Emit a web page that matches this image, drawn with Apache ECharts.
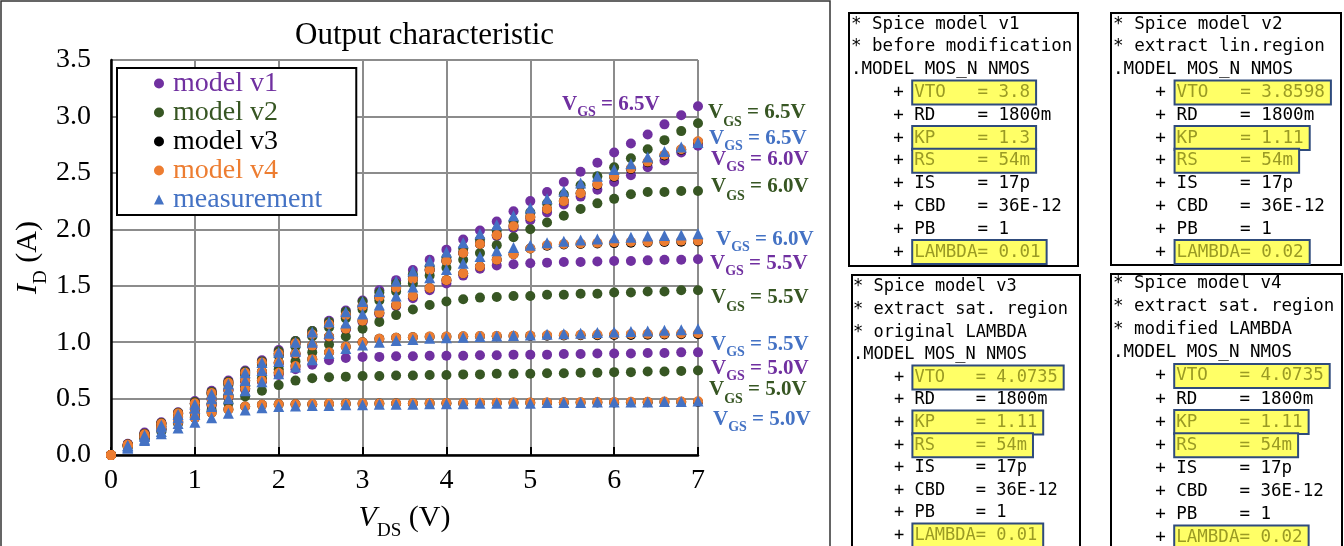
<!DOCTYPE html>
<html lang="en">
<head>
<meta charset="UTF-8">
<title>Output characteristic</title>
<script src="https://cdn.jsdelivr.net/npm/echarts@6/dist/echarts.min.js"></script>
<style>
  body { margin: 0; background: #fff; }
  #main { width: 1344px; height: 546px; }
</style>
</head>
<body>
<div id="main"></div>
<script>
  // V_DS sweep (V)
  var vds = [0, 0.2, 0.4, 0.6, 0.8, 1, 1.2, 1.4, 1.6, 1.8, 2, 2.2, 2.4, 2.6, 2.8, 3, 3.2, 3.4, 3.6, 3.8, 4, 4.2, 4.4, 4.6, 4.8, 5, 5.2, 5.4, 5.6, 5.8, 6, 6.2, 6.4, 6.6, 6.8, 7];

  // I_D (A), one array per model and VGS
  var v1_50 = [0, 0.08, 0.16, 0.23, 0.30, 0.37, 0.44, 0.51, 0.58, 0.65, 0.71, 0.76, 0.80, 0.84, 0.86, 0.87, 0.87, 0.875, 0.875, 0.88, 0.88, 0.88, 0.885, 0.885, 0.89, 0.89, 0.89, 0.895, 0.895, 0.90, 0.90, 0.90, 0.905, 0.905, 0.91, 0.91];
  var v1_55 = [0, 0.085, 0.17, 0.25, 0.33, 0.41, 0.49, 0.57, 0.65, 0.73, 0.81, 0.89, 0.96, 1.04, 1.11, 1.18, 1.25, 1.32, 1.39, 1.46, 1.52, 1.59, 1.65, 1.68, 1.69, 1.70, 1.705, 1.71, 1.71, 1.715, 1.72, 1.72, 1.725, 1.73, 1.73, 1.735];
  var v1_60 = [0, 0.095, 0.19, 0.28, 0.37, 0.46, 0.55, 0.63, 0.72, 0.81, 0.89, 0.98, 1.06, 1.15, 1.23, 1.31, 1.40, 1.48, 1.56, 1.64, 1.72, 1.79, 1.87, 1.94, 2.01, 2.08, 2.15, 2.22, 2.29, 2.35, 2.42, 2.48, 2.55, 2.61, 2.68, 2.74];
  var v1_65 = [0, 0.10, 0.20, 0.29, 0.38, 0.48, 0.57, 0.66, 0.75, 0.84, 0.93, 1.01, 1.10, 1.19, 1.28, 1.37, 1.46, 1.55, 1.64, 1.73, 1.82, 1.91, 1.99, 2.07, 2.16, 2.25, 2.33, 2.42, 2.51, 2.59, 2.68, 2.76, 2.84, 2.93, 3.01, 3.09];

  var v2_50 = [0, 0.07, 0.14, 0.21, 0.28, 0.34, 0.40, 0.46, 0.52, 0.57, 0.62, 0.66, 0.68, 0.69, 0.695, 0.70, 0.70, 0.705, 0.705, 0.71, 0.71, 0.715, 0.715, 0.72, 0.72, 0.72, 0.725, 0.725, 0.73, 0.73, 0.735, 0.735, 0.74, 0.74, 0.745, 0.75];
  var v2_55 = [0, 0.08, 0.15, 0.23, 0.30, 0.38, 0.46, 0.53, 0.61, 0.68, 0.76, 0.83, 0.91, 0.98, 1.05, 1.12, 1.18, 1.24, 1.29, 1.33, 1.36, 1.38, 1.395, 1.40, 1.41, 1.41, 1.42, 1.42, 1.43, 1.43, 1.44, 1.44, 1.45, 1.45, 1.46, 1.46];
  var v2_60 = [0, 0.09, 0.18, 0.27, 0.36, 0.45, 0.54, 0.62, 0.71, 0.80, 0.88, 0.96, 1.05, 1.13, 1.21, 1.29, 1.37, 1.45, 1.52, 1.59, 1.66, 1.73, 1.79, 1.86, 1.93, 2.00, 2.06, 2.12, 2.18, 2.23, 2.27, 2.31, 2.33, 2.33, 2.34, 2.34];
  var v2_65 = [0, 0.095, 0.19, 0.285, 0.375, 0.47, 0.56, 0.65, 0.74, 0.83, 0.92, 1.01, 1.10, 1.18, 1.27, 1.36, 1.44, 1.52, 1.60, 1.67, 1.75, 1.83, 1.91, 1.99, 2.07, 2.15, 2.23, 2.31, 2.39, 2.47, 2.55, 2.63, 2.71, 2.79, 2.87, 2.94];

  var v3_50 = [0, 0.08, 0.16, 0.23, 0.29, 0.33, 0.376, 0.405, 0.43, 0.445, 0.45, 0.45, 0.451, 0.453, 0.454, 0.455, 0.456, 0.457, 0.458, 0.458, 0.459, 0.46, 0.461, 0.462, 0.463, 0.463, 0.464, 0.465, 0.466, 0.467, 0.467, 0.468, 0.469, 0.47, 0.47, 0.471];
  var v3_55 = [0, 0.08, 0.155, 0.23, 0.305, 0.38, 0.45, 0.52, 0.59, 0.66, 0.73, 0.79, 0.85, 0.91, 0.96, 1.00, 1.03, 1.04, 1.044, 1.048, 1.049, 1.05, 1.052, 1.053, 1.055, 1.056, 1.058, 1.059, 1.061, 1.062, 1.064, 1.065, 1.067, 1.068, 1.07, 1.071];
  var v3_60 = [0, 0.085, 0.17, 0.255, 0.34, 0.42, 0.50, 0.58, 0.66, 0.74, 0.82, 0.90, 0.97, 1.05, 1.12, 1.19, 1.26, 1.33, 1.41, 1.48, 1.55, 1.61, 1.67, 1.73, 1.78, 1.83, 1.855, 1.865, 1.87, 1.875, 1.878, 1.881, 1.884, 1.887, 1.89, 1.892];
  var v3_65 = [0, 0.093, 0.185, 0.28, 0.37, 0.46, 0.55, 0.64, 0.73, 0.82, 0.90, 0.99, 1.07, 1.16, 1.24, 1.32, 1.40, 1.48, 1.56, 1.64, 1.72, 1.79, 1.87, 1.95, 2.03, 2.11, 2.18, 2.25, 2.32, 2.395, 2.465, 2.535, 2.595, 2.655, 2.705, 2.775];

  var v4_50 = [0, 0.08, 0.16, 0.23, 0.29, 0.33, 0.376, 0.405, 0.43, 0.445, 0.45, 0.45, 0.452, 0.454, 0.455, 0.456, 0.457, 0.458, 0.459, 0.46, 0.461, 0.462, 0.463, 0.464, 0.465, 0.466, 0.467, 0.468, 0.469, 0.47, 0.471, 0.472, 0.473, 0.474, 0.475, 0.476];
  var v4_55 = [0, 0.08, 0.155, 0.23, 0.305, 0.38, 0.45, 0.52, 0.59, 0.66, 0.73, 0.79, 0.85, 0.91, 0.96, 1.00, 1.03, 1.04, 1.045, 1.05, 1.05, 1.052, 1.054, 1.056, 1.058, 1.06, 1.062, 1.064, 1.066, 1.068, 1.07, 1.072, 1.074, 1.076, 1.078, 1.08];
  var v4_60 = [0, 0.085, 0.17, 0.255, 0.34, 0.42, 0.50, 0.58, 0.66, 0.74, 0.82, 0.90, 0.97, 1.05, 1.12, 1.19, 1.26, 1.33, 1.41, 1.48, 1.55, 1.61, 1.67, 1.73, 1.78, 1.83, 1.86, 1.87, 1.875, 1.88, 1.885, 1.89, 1.89, 1.895, 1.90, 1.90];
  var v4_65 = [0, 0.093, 0.185, 0.28, 0.37, 0.46, 0.55, 0.64, 0.73, 0.82, 0.90, 0.99, 1.07, 1.16, 1.24, 1.32, 1.40, 1.48, 1.56, 1.64, 1.72, 1.79, 1.87, 1.95, 2.03, 2.11, 2.18, 2.25, 2.32, 2.40, 2.47, 2.54, 2.60, 2.66, 2.71, 2.78];

  // measurement has no point at 0 V
  var meas_50 = [null, 0.06, 0.13, 0.19, 0.24, 0.29, 0.33, 0.37, 0.40, 0.42, 0.43, 0.435, 0.44, 0.44, 0.445, 0.445, 0.45, 0.45, 0.45, 0.455, 0.455, 0.455, 0.46, 0.46, 0.46, 0.46, 0.465, 0.465, 0.465, 0.47, 0.47, 0.47, 0.47, 0.475, 0.475, 0.48];
  var meas_55 = [null, 0.07, 0.14, 0.21, 0.28, 0.36, 0.43, 0.50, 0.57, 0.65, 0.72, 0.78, 0.845, 0.90, 0.945, 0.975, 1.00, 1.015, 1.025, 1.035, 1.04, 1.045, 1.05, 1.055, 1.06, 1.065, 1.07, 1.075, 1.08, 1.085, 1.09, 1.095, 1.10, 1.105, 1.11, 1.12];
  var meas_60 = [null, 0.08, 0.165, 0.25, 0.33, 0.415, 0.50, 0.58, 0.66, 0.75, 0.83, 0.92, 1.00, 1.08, 1.17, 1.25, 1.33, 1.41, 1.49, 1.57, 1.645, 1.70, 1.76, 1.81, 1.84, 1.86, 1.88, 1.895, 1.905, 1.915, 1.925, 1.93, 1.94, 1.945, 1.95, 1.96];
  var meas_65 = [null, 0.085, 0.175, 0.265, 0.36, 0.45, 0.54, 0.63, 0.73, 0.82, 0.91, 1.00, 1.09, 1.18, 1.27, 1.36, 1.45, 1.54, 1.63, 1.72, 1.80, 1.88, 1.96, 2.04, 2.12, 2.19, 2.27, 2.34, 2.41, 2.47, 2.53, 2.58, 2.64, 2.69, 2.73, 2.77];

  var xTicks = [0, 1, 2, 3, 4, 5, 6, 7];
  var yTicks = [0, 0.5, 1, 1.5, 2, 2.5, 3, 3.5];

  var models = [
    { name: 'model v1', color: '#7030A0', symbol: 'circle', size: 10, curves: [v1_50, v1_55, v1_60, v1_65] },
    { name: 'model v2', color: '#375623', symbol: 'circle', size: 10, curves: [v2_50, v2_55, v2_60, v2_65] },
    { name: 'model v3', color: '#000000', symbol: 'circle', size: 10, curves: [v3_50, v3_55, v3_60, v3_65] },
    { name: 'model v4', color: '#ED7D31', symbol: 'circle', size: 10, curves: [v4_50, v4_55, v4_60, v4_65] },
    { name: 'measurement', color: '#4472C4', symbol: 'triangle', size: 11, curves: [meas_50, meas_55, meas_60, meas_65] }
  ];

  // spice parameter boxes on the right
  var spiceBoxes = [
    { x: 849, y: 13, w: 229, h: 253, tx: 851, ty: 24, pitch: 22.8, fs: 17.5,
      hl: [3, 5, 6, 10],
      lines: ['* Spice model v1', '* before modification', '.MODEL MOS_N NMOS',
        '    + VTO   = 3.8', '    + RD    = 1800m', '    + KP    = 1.3', '    + RS    = 54m',
        '    + IS    = 17p', '    + CBD   = 36E-12', '    + PB    = 1', '    + LAMBDA= 0.01'] },
    { x: 1111, y: 13, w: 230, h: 252, tx: 1113, ty: 24, pitch: 22.8, fs: 17.6,
      hl: [3, 5, 6, 10],
      lines: ['* Spice model v2', '* extract lin.region', '.MODEL MOS_N NMOS',
        '    + VTO   = 3.8598', '    + RD    = 1800m', '    + KP    = 1.11', '    + RS    = 54m',
        '    + IS    = 17p', '    + CBD   = 36E-12', '    + PB    = 1', '    + LAMBDA= 0.02'] },
    { x: 852, y: 275, w: 228, h: 290, tx: 853, ty: 287, pitch: 22.6, fs: 17,
      hl: [4, 6, 7, 11],
      lines: ['* Spice model v3', '* extract sat. region', '* original LAMBDA', '.MODEL MOS_N NMOS',
        '    + VTO   = 4.0735', '    + RD    = 1800m', '    + KP    = 1.11', '    + RS    = 54m',
        '    + IS    = 17p', '    + CBD   = 36E-12', '    + PB    = 1', '    + LAMBDA= 0.01'] },
    { x: 1111, y: 274, w: 231, h: 290, tx: 1113, ty: 283.5, pitch: 23.1, fs: 17.5,
      hl: [4, 6, 7, 11],
      lines: ['* Spice model v4', '* extract sat. region', '* modified LAMBDA', '.MODEL MOS_N NMOS',
        '    + VTO   = 4.0735', '    + RD    = 1800m', '    + KP    = 1.11', '    + RS    = 54m',
        '    + IS    = 17p', '    + CBD   = 36E-12', '    + PB    = 1', '    + LAMBDA= 0.02'] }
  ];

  // VGS annotations: [text value, colour, left x, centre y of the V]
  var vgsLabels = [
    ['6.5V', '#7030A0', 562, 105], ['6.5V', '#375623', 708, 113], ['6.5V', '#4472C4', 709, 139],
    ['6.0V', '#7030A0', 711, 160], ['6.0V', '#375623', 711, 187], ['6.0V', '#4472C4', 716, 240],
    ['5.5V', '#7030A0', 710, 264], ['5.5V', '#375623', 711, 298], ['5.5V', '#4472C4', 711, 345],
    ['5.0V', '#7030A0', 711, 369], ['5.0V', '#375623', 709, 390], ['5.0V', '#4472C4', 713, 420]
  ];

  var SERIF = '"Liberation Serif", "Times New Roman", serif';
  var MONO = '"DejaVu Sans Mono", monospace';

  function points(arr) {
    var out = [];
    for (var i = 0; i < vds.length; i++) {
      if (arr[i] != null) out.push([vds[i], arr[i]]);
    }
    return out;
  }

  var series = models.map(function (m) {
    var data = [];
    m.curves.forEach(function (c) { data = data.concat(points(c)); });
    return {
      type: 'scatter',
      name: m.name,
      symbol: m.symbol,
      symbolSize: m.size,
      clip: false,
      silent: true,
      itemStyle: { color: m.color, opacity: 1 },
      data: data
    };
  });

  var graphics = [];
  // frame round the chart
  graphics.push({ type: 'rect', shape: { x: 1, y: 1, width: 829, height: 560 },
    style: { fill: 'none', stroke: '#333', lineWidth: 1.5 }, z: 100 });

  vgsLabels.forEach(function (l) {
    var green = l[1] === '#375623';
    var pad = green ? 15 : 12;
    var L = green ? 25 : 24;
    graphics.push({
      type: 'text', x: l[2], y: l[3] - L / 2, z: 100,
      style: {
        text: '{v|V}{s|GS}{v| = ' + l[0] + '}',
        align: 'left', verticalAlign: 'top', textAlign: 'left', textVerticalAlign: 'top',
        fill: l[1],
        rich: {
          v: { fontSize: 21, fontWeight: 'bold', fontFamily: SERIF, fill: l[1], lineHeight: 24 },
          s: { fontSize: 14, fontWeight: 'bold', fontFamily: SERIF, fill: l[1], lineHeight: 10,
               verticalAlign: 'top', padding: [pad, 0, 0, 0] }
        }
      }
    });
  });

  spiceBoxes.forEach(function (b) {
    var cw = b.fs * 0.602;
    graphics.push({ type: 'rect', shape: { x: b.x, y: b.y, width: b.w, height: b.h },
      style: { fill: '#fff', stroke: '#000', lineWidth: 2 }, z: 10 });
    b.lines.forEach(function (s, i) {
      var cy = b.ty + i * b.pitch;
      var isHl = b.hl.indexOf(i) >= 0;
      if (isHl) {
        graphics.push({ type: 'rect', z: 11,
          shape: { x: b.tx + 6 * cw - 2, y: cy - 12, width: (s.length - 6) * cw + 8, height: 24 },
          style: { fill: '#FFFF66', stroke: '#2F4B7C', lineWidth: 2 } });
        graphics.push({ type: 'text', x: b.tx, y: cy, z: 12,
          style: { text: s.slice(0, 6), font: b.fs + 'px ' + MONO, fill: '#000',
            align: 'left', verticalAlign: 'middle', textAlign: 'left', textVerticalAlign: 'middle' } });
        graphics.push({ type: 'text', x: b.tx + 6 * cw, y: cy, z: 12,
          style: { text: s.slice(6), font: b.fs + 'px ' + MONO, fill: '#9A9A24',
            align: 'left', verticalAlign: 'middle', textAlign: 'left', textVerticalAlign: 'middle' } });
      } else {
        graphics.push({ type: 'text', x: b.tx, y: cy, z: 12,
          style: { text: s, font: b.fs + 'px ' + MONO, fill: '#000',
            align: 'left', verticalAlign: 'middle', textAlign: 'left', textVerticalAlign: 'middle' } });
      }
    });
  });

  var myChart = echarts.init(document.getElementById('main'));
  var option = {
    animation: false,
    backgroundColor: '#fff',
    textStyle: { fontFamily: SERIF },
    title: {
      text: 'Output characteristic',
      left: 290, top: 15,
      textStyle: { fontFamily: SERIF, fontSize: 31, fontWeight: 'normal', color: '#000' }
    },
    grid: { left: 111, right: 646, top: 60, bottom: 77 },
    legend: {
      orient: 'vertical', left: 117, top: 68,
      backgroundColor: '#fff', borderColor: '#000', borderWidth: 2,
      padding: [1, 34, 1, 37], itemGap: 0, itemWidth: 10, itemHeight: 10,
      selectedMode: false,
      textStyle: { fontFamily: SERIF, fontSize: 28, lineHeight: 29, padding: [0, 0, 0, 4] },
      data: models.map(function (m) {
        return { name: m.name, icon: m.symbol, itemStyle: { color: m.color }, textStyle: { color: m.color } };
      })
    },
    xAxis: {
      type: 'value', min: xTicks[0], max: xTicks[xTicks.length - 1], interval: 1,
      name: '{i|V}{sub|DS}{n| (V)}',
      nameLocation: 'middle', nameGap: 40,
      nameTextStyle: {
        color: '#000',
        rich: {
          i: { fontFamily: SERIF, fontStyle: 'italic', fontSize: 30, lineHeight: 36, color: '#000' },
          sub: { fontFamily: SERIF, fontSize: 19, lineHeight: 12, verticalAlign: 'top', padding: [22, 0, 0, 0], color: '#000' },
          n: { fontFamily: SERIF, fontSize: 30, lineHeight: 36, color: '#000' }
        }
      },
      axisLine: { show: true, lineStyle: { color: '#000', width: 2.5 } },
      axisTick: { show: true, inside: true, length: 8, lineStyle: { color: '#000', width: 2 } },
      axisLabel: { fontFamily: SERIF, fontSize: 28, color: '#000', margin: 12 },
      splitLine: { show: true, lineStyle: { color: '#8c8c8c', width: 2 } }
    },
    yAxis: {
      type: 'value', min: yTicks[0], max: yTicks[yTicks.length - 1], interval: 0.5,
      name: '{i|I}{sub|D}{n| (A)}',
      nameLocation: 'middle', nameRotate: 90, nameGap: 65,
      nameTextStyle: {
        color: '#000',
        rich: {
          i: { fontFamily: SERIF, fontStyle: 'italic', fontSize: 30, lineHeight: 36, color: '#000' },
          sub: { fontFamily: SERIF, fontSize: 19, lineHeight: 12, verticalAlign: 'top', padding: [22, 0, 0, 0], color: '#000' },
          n: { fontFamily: SERIF, fontSize: 30, lineHeight: 36, color: '#000' }
        }
      },
      axisLine: { show: true, lineStyle: { color: '#000', width: 2.5 } },
      axisTick: { show: false },
      axisLabel: {
        fontFamily: SERIF, fontSize: 28, color: '#000', margin: 20,
        formatter: function (v) { return v.toFixed(1); }
      },
      splitLine: { show: true, lineStyle: { color: '#8c8c8c', width: 2 } }
    },
    graphic: { elements: graphics },
    series: series
  };
  myChart.setOption(option);
</script>
</body>
</html>
